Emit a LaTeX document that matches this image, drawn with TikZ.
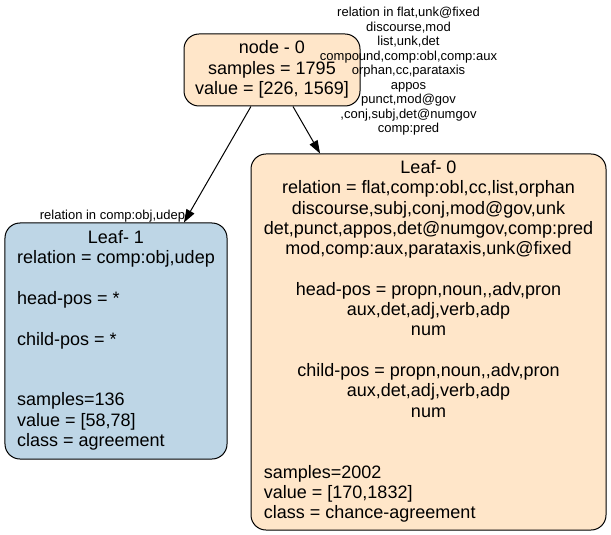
\documentclass[tikz,border=0pt]{standalone}
\usepackage{fontspec}
\setmainfont{Liberation Sans}
\usetikzlibrary{arrows.meta}
\definecolor{peach}{HTML}{FFE6C9}
\definecolor{leafblue}{HTML}{BED6E6}
\newcommand\bigfont{\fontsize{18bp}{20.3bp}\selectfont}
\newcommand\smallfont{\fontsize{13bp}{14.5bp}\selectfont}
\newcommand\ctr[1]{\multicolumn{1}{@{}c@{}}{#1}}
\begin{document}
\begin{tikzpicture}[x=1bp,y=-1bp,
  box/.style={draw=black, line width=1bp, rounded corners=15bp, inner sep=0pt, font=\bigfont},
  elabel/.style={inner sep=0pt, font=\smallfont},
  edge/.style={draw, line width=1bp, -{Triangle[length=13bp,width=9bp]}}]
\useasboundingbox (0,0) rectangle (611,535);
\node[box, fill=peach, minimum width=176bp, minimum height=72bp] (root) at (272,70)
  {\begin{tabular}{@{}c@{}}node - 0\\samples = 1795\\value = [226, 1569]\end{tabular}};
\node[box, fill=leafblue, minimum width=222bp, minimum height=236bp] (leaf1) at (116,341)
  {\begin{tabular}{@{}l@{}}
   \ctr{Leaf- 1}\\
   relation = comp:obj,udep\\
   \\
   head-pos = *\\
   \\
   child-pos = *\\
   \\
   \\
   samples=136\\
   value = [58,78]\\
   class = agreement
   \end{tabular}};
\node[box, fill=peach, minimum width=355bp, minimum height=376bp] (leaf0) at (428.5,342)
  {\begin{tabular}{@{}l@{}}
   \ctr{Leaf- 0}\\
   \ctr{relation = flat,comp:obl,cc,list,orphan}\\
   \ctr{discourse,subj,conj,mod@gov,unk}\\
   \ctr{det,punct,appos,det@numgov,comp:pred}\\
   \ctr{mod,comp:aux,parataxis,unk@fixed}\\
   \\
   \ctr{head-pos = propn,noun,\kern0pt,adv,pron}\\
   \ctr{aux,det,adj,verb,adp}\\
   \ctr{num}\\
   \\
   \ctr{child-pos = propn,noun,\kern0pt,adv,pron}\\
   \ctr{aux,det,adj,verb,adp}\\
   \ctr{num}\\
   \\
   \\
   samples=2002\\
   value = [170,1832]\\
   class = chance-agreement
   \end{tabular}};
\node[elabel] (lab0) at (408.5,71.7)
  {\begin{tabular}{@{}c@{}}relation in flat,unk@fixed\\discourse,mod\\list,unk,det\\compound,comp:obl,comp:aux\\orphan,cc,parataxis\\appos\\punct,mod@gov\\,conj,subj,det@numgov\\comp:pred\end{tabular}};
\node[elabel] (lab1) at (112.5,216.7)
  {\begin{tabular}{@{}c@{}}relation in comp:obj,udep\end{tabular}};
\draw[edge] (root) -- (leaf1);
\draw[edge] (root) -- (leaf0);
\end{tikzpicture}
\end{document}
